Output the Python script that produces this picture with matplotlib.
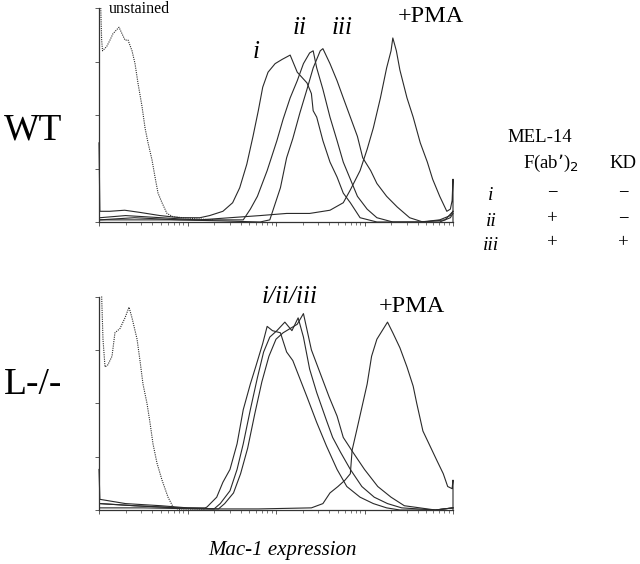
import numpy as np
import matplotlib
matplotlib.use("Agg")
import matplotlib.pyplot as plt

plt.rcParams['font.family'] = ['Liberation Serif', 'DejaVu Serif']

# ---- data (x in log10 fluorescence units, y = relative cell count) ----
wt_unst_x = [0.02, 0.03, 0.04, 0.087, 0.124, 0.158, 0.203, 0.226, 0.26, 0.294, 0.328, 0.373, 0.407, 0.44,
             0.486, 0.52, 0.554, 0.599, 0.633, 0.667, 0.712, 0.768, 0.836, 0.95, 1.1, 1.3]
wt_unst_y = [1.0, 0.85, 0.80, 0.82, 0.85, 0.88, 0.90, 0.91, 0.88, 0.85, 0.85, 0.80, 0.74, 0.65,
             0.54, 0.44, 0.37, 0.29, 0.21, 0.135, 0.09, 0.04, 0.025, 0.02, 0.015, 0.01]

wt_i_x = [0.0, 0.01, 0.12, 0.29, 0.46, 0.69, 0.92, 1.14, 1.25, 1.40, 1.51, 1.59, 1.67, 1.74, 1.80, 1.85,
          1.91, 1.99, 2.07, 2.16, 2.24, 2.35, 2.40, 2.42, 2.46, 2.53, 2.61, 2.69, 2.76, 2.84, 2.95, 3.14,
          3.63, 3.85, 3.97, 4.0]
wt_i_y = [0.37, 0.05, 0.05, 0.055, 0.045, 0.03, 0.02, 0.02, 0.03, 0.05, 0.09, 0.16, 0.27, 0.40, 0.52, 0.63,
          0.70, 0.74, 0.76, 0.78, 0.70, 0.65, 0.60, 0.52, 0.49, 0.38, 0.28, 0.21, 0.135, 0.09, 0.02, 0.0,
          0.0, 0.01, 0.03, 0.05]

wt_ii_x = [0.01, 0.3, 0.7, 1.1, 1.4, 1.63, 1.71, 1.79, 1.90, 2.01, 2.08, 2.16, 2.24, 2.31, 2.38, 2.42,
           2.46, 2.53, 2.61, 2.69, 2.76, 2.84, 2.92, 3.03, 3.14, 3.32, 3.85, 3.97, 4.0]
wt_ii_y = [0.02, 0.03, 0.02, 0.01, 0.01, 0.01, 0.06, 0.12, 0.24, 0.38, 0.48, 0.58, 0.66, 0.74, 0.79, 0.80,
           0.72, 0.62, 0.49, 0.38, 0.28, 0.20, 0.12, 0.06, 0.02, 0.0, 0.0, 0.02, 0.04]

wt_iii_x = [0.01, 0.4, 0.9, 1.4, 1.82, 1.93, 2.05, 2.12, 2.19, 2.27, 2.35, 2.42, 2.50, 2.53, 2.61, 2.69,
            2.76, 2.84, 2.92, 2.98, 3.07, 3.14, 3.25, 3.37, 3.51, 3.66, 3.91, 4.0]
wt_iii_y = [0.01, 0.02, 0.01, 0.005, 0.0, 0.01, 0.16, 0.30, 0.39, 0.51, 0.62, 0.72, 0.80, 0.81, 0.74, 0.66,
            0.58, 0.49, 0.40, 0.30, 0.24, 0.18, 0.12, 0.07, 0.02, 0.0, 0.01, 0.05]

wt_pma_x = [0.01, 0.5, 1.14, 1.48, 1.82, 2.12, 2.38, 2.61, 2.76, 2.84, 2.95, 3.03, 3.10, 3.18, 3.25, 3.30,
            3.32, 3.36, 3.40, 3.48, 3.55, 3.63, 3.71, 3.77, 3.85, 3.93, 3.97, 3.99, 4.0, 4.0]
wt_pma_y = [0.01, 0.01, 0.01, 0.02, 0.03, 0.04, 0.04, 0.055, 0.09, 0.15, 0.24, 0.34, 0.44, 0.58, 0.72, 0.80,
            0.86, 0.80, 0.71, 0.58, 0.49, 0.37, 0.28, 0.20, 0.12, 0.05, 0.06, 0.10, 0.20, 0.0]

ko_unst_x = [0.03, 0.045, 0.068, 0.10, 0.147, 0.18, 0.237, 0.294, 0.339, 0.373, 0.43, 0.463, 0.497, 0.542,
             0.576, 0.61, 0.655, 0.712, 0.78, 0.836, 0.915, 1.2]
ko_unst_y = [1.0, 0.80, 0.67, 0.68, 0.72, 0.83, 0.85, 0.90, 0.95, 0.90, 0.80, 0.70, 0.59, 0.50,
             0.41, 0.31, 0.22, 0.14, 0.06, 0.015, 0.0, 0.0]

ko_i_x = [0.0, 0.01, 0.3, 0.7, 1.0, 1.2, 1.22, 1.33, 1.40, 1.48, 1.56, 1.63, 1.71, 1.77, 1.85, 1.90,
          1.96, 2.05, 2.12, 2.19, 2.35, 2.46, 2.57, 2.69, 2.80, 2.95, 3.10, 3.25, 3.4, 3.8, 4.0]
ko_i_y = [0.19, 0.05, 0.03, 0.02, 0.01, 0.01, 0.014, 0.06, 0.13, 0.19, 0.31, 0.47, 0.59, 0.67, 0.78, 0.86,
          0.84, 0.83, 0.74, 0.70, 0.53, 0.41, 0.30, 0.19, 0.11, 0.06, 0.03, 0.01, 0.0, 0.0, 0.01]

ko_ii_x = [0.01, 0.4, 0.9, 1.3, 1.37, 1.48, 1.56, 1.63, 1.71, 1.79, 1.86, 1.93, 2.01, 2.10, 2.18, 2.25,
           2.31, 2.38, 2.46, 2.57, 2.64, 2.73, 2.84, 2.97, 3.11, 3.26, 3.42, 3.8, 4.0]
ko_ii_y = [0.03, 0.02, 0.01, 0.005, 0.03, 0.09, 0.19, 0.31, 0.47, 0.62, 0.74, 0.81, 0.84, 0.88, 0.84, 0.90,
           0.81, 0.66, 0.55, 0.42, 0.34, 0.27, 0.19, 0.11, 0.06, 0.03, 0.01, 0.0, 0.01]

ko_iii_x = [0.01, 0.4, 0.9, 1.35, 1.42, 1.52, 1.60, 1.68, 1.76, 1.84, 1.92, 2.00, 2.08, 2.16, 2.24, 2.31,
            2.40, 2.50, 2.60, 2.69, 2.76, 2.87, 3.00, 3.15, 3.30, 3.45, 3.8, 4.0]
ko_iii_y = [0.03, 0.02, 0.01, 0.005, 0.03, 0.08, 0.17, 0.29, 0.45, 0.60, 0.72, 0.80, 0.83, 0.85, 0.87, 0.92,
            0.75, 0.64, 0.53, 0.44, 0.34, 0.27, 0.19, 0.11, 0.06, 0.02, 0.0, 0.01]

ko_pma_x = [0.01, 0.5, 1.14, 1.8, 2.4, 2.53, 2.61, 2.70, 2.78, 2.84, 2.86, 2.91, 2.97, 3.03, 3.08, 3.14,
            3.20, 3.26, 3.32, 3.40, 3.48, 3.55, 3.59, 3.66, 3.74, 3.82, 3.89, 3.94, 3.99, 4.0, 4.0]
ko_pma_y = [0.01, 0.01, 0.005, 0.005, 0.01, 0.03, 0.08, 0.11, 0.14, 0.17, 0.28, 0.37, 0.48, 0.59, 0.72, 0.80,
            0.84, 0.88, 0.83, 0.76, 0.67, 0.58, 0.50, 0.37, 0.30, 0.23, 0.17, 0.11, 0.10, 0.14, 0.0]

table_rows = ["i", "ii", "iii"]
table_fab = ["\u2212", "+", "+"]
table_kd = ["\u2212", "\u2212", "+"]

# ---- figure ----
fig = plt.figure(figsize=(6.4, 5.64), dpi=100)
W, H = 640, 564


def make_ax(top_px, bot_px):
    ax = fig.add_axes([99 / W, 1 - bot_px / H, 354 / W, (bot_px - top_px) / H])
    ax.set_xscale('log')
    ax.set_xlim(1, 1e4)
    ax.set_ylim(0, 1)
    for s in ['top', 'right']:
        ax.spines[s].set_visible(False)
    for s in ['left', 'bottom']:
        ax.spines[s].set_linewidth(0.9)
        ax.spines[s].set_color('#333333')
    ax.set_yticks([0, 0.25, 0.5, 0.75, 1.0])
    ax.set_yticklabels([])
    ax.set_xticks([1, 10, 100, 1000, 10000])
    ax.set_xticklabels([])
    ax.xaxis.set_minor_formatter(matplotlib.ticker.NullFormatter())
    ax.tick_params(which='major', direction='out', length=3, width=0.6, color='#444444')
    ax.tick_params(which='minor', direction='out', length=2, width=0.5, color='#444444')
    ax.patch.set_alpha(0)
    return ax


def draw(ax, xs, ys, dotted=False):
    x = 10 ** np.array(xs)
    ax.plot(x, ys, color='#2a2a2a', lw=0.8,
            ls=(0, (1, 1)) if dotted else '-', clip_on=False)


ax1 = make_ax(8, 222)
draw(ax1, wt_unst_x, wt_unst_y, dotted=True)
for xs, ys in [(wt_i_x, wt_i_y), (wt_ii_x, wt_ii_y), (wt_iii_x, wt_iii_y), (wt_pma_x, wt_pma_y)]:
    draw(ax1, xs, ys)

ax2 = make_ax(296.5, 510)
draw(ax2, ko_unst_x, ko_unst_y, dotted=True)
for xs, ys in [(ko_i_x, ko_i_y), (ko_ii_x, ko_ii_y), (ko_iii_x, ko_iii_y), (ko_pma_x, ko_pma_y)]:
    draw(ax2, xs, ys)


def ftext(x, y, s, size, **kw):
    fig.text(x / W, 1 - y / H, s, fontsize=size, va='center', **kw)


ftext(109, 9, "unstained", 11.5, ha='left')
ftext(256, 52, "i", 18, ha='center', style='italic')
ftext(300, 28, "ii", 18, ha='center', style='italic')
ftext(342, 28, "iii", 18, ha='center', style='italic')
ftext(431, 16, "+PMA", 17.5, ha='center')
ftext(290, 297, "i/ii/iii", 18, ha='center', style='italic')
ftext(412, 306, "+PMA", 17.5, ha='center')
ftext(4, 130, "WT", 27, ha='left')
ftext(4, 385, "L-/-", 27, ha='left')
ftext(283, 551, "Mac-1 expression", 15, ha='center', style='italic')

ftext(540, 138, "MEL-14", 13.5, ha='center')
ftext(551, 163, "F(ab\u2019)$_2$", 13.5, ha='center')
ftext(623, 163, "KD", 13.5, ha='center')
row_y = [196, 221, 245]
for r, f, k, y in zip(table_rows, table_fab, table_kd, row_y):
    ftext(491, y, r, 14, ha='center', style='italic')
    ftext(552, y - 2, f, 13.5, ha='center')
    ftext(623, y - 2, k, 13.5, ha='center')

fig.savefig("out.png", dpi=100, facecolor='white')
